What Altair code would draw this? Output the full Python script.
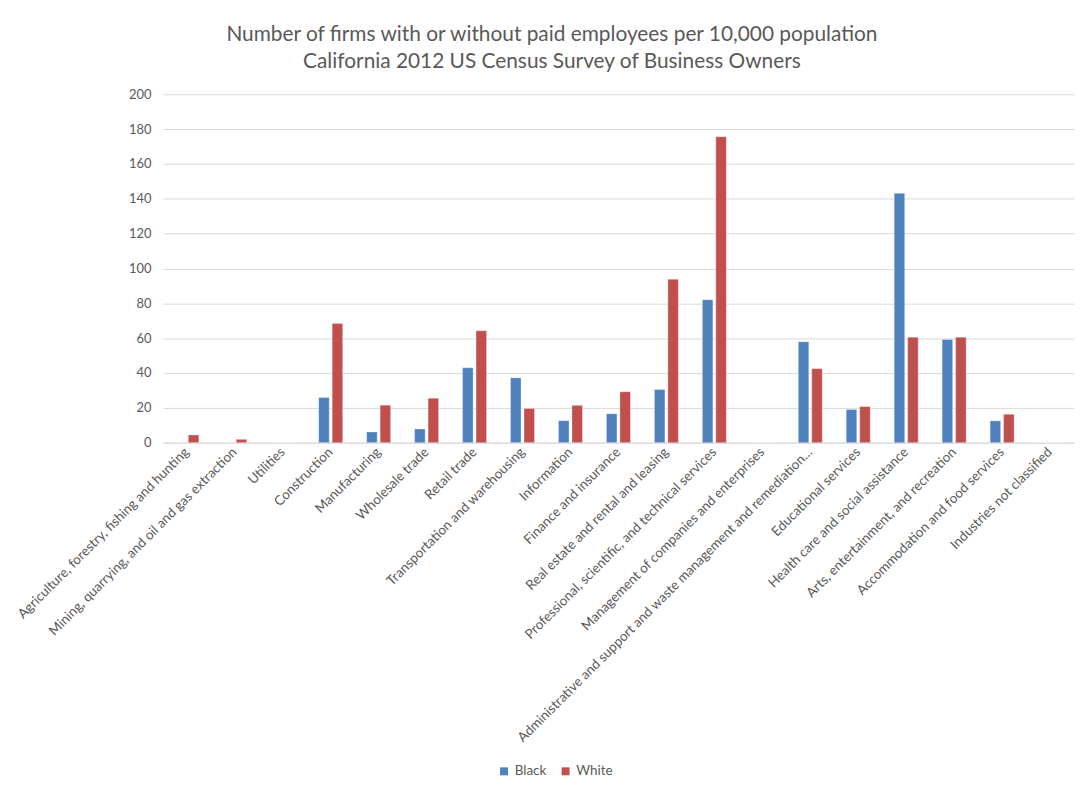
import altair as alt
import pandas as pd

categories = [
    "Agriculture, forestry, fishing and hunting",
    "Mining, quarrying, and oil and gas extraction",
    "Utilities",
    "Construction",
    "Manufacturing",
    "Wholesale trade",
    "Retail trade",
    "Transportation and warehousing",
    "Information",
    "Finance and insurance",
    "Real estate and rental and leasing",
    "Professional, scientific, and technical services",
    "Management of companies and enterprises",
    "Administrative and support and waste management and remediation…",
    "Educational services",
    "Health care and social assistance",
    "Arts, entertainment, and recreation",
    "Accommodation and food services",
    "Industries not classified",
]
black = [0, 0, 0, 25.9, 6.1, 7.8, 43.0, 37.2, 12.6, 16.6, 30.5, 82.0, 0, 57.9, 19.0, 143.1, 59.2, 12.5, 0]
white = [4.4, 1.9, 0, 68.4, 21.5, 25.5, 64.2, 19.6, 21.4, 29.2, 93.8, 175.6, 0, 42.5, 20.7, 60.5, 60.5, 16.3, 0]
series = ["Black", "White"]
colors = ["#4F81BD", "#C0504D"]

rows = []
for i, c in enumerate(categories):
    rows.append({"industry": c, "race": "Black", "value": black[i]})
    rows.append({"industry": c, "race": "White", "value": white[i]})
df = pd.DataFrame(rows)

FONT = "Lato"
GRAY = "#595959"

chart = alt.Chart(df).mark_bar(stroke="white", strokeWidth=0.6, strokeOpacity=0.5).encode(
    x=alt.X("industry:N", sort=categories, title=None,
            scale=alt.Scale(paddingInner=0.5, paddingOuter=0.25),
            axis=alt.Axis(labelAngle=-45, labelAlign="right", labelBaseline="middle",
                          labelLimit=700, labelPadding=7, ticks=False,
                          domainColor="#d9d9d9", labelColor=GRAY, labelFontSize=13.5,
                          labelFont=FONT)),
    xOffset=alt.XOffset("race:N", sort=series,
                        scale=alt.Scale(paddingInner=0.22, paddingOuter=0)),
    y=alt.Y("value:Q", title=None,
            scale=alt.Scale(domain=[0, 200]),
            axis=alt.Axis(values=list(range(0, 201, 20)), domain=False, ticks=False,
                          gridColor="#d9d9d9", labelColor=GRAY, labelFontSize=13,
                          labelFont=FONT, labelPadding=12)),
    color=alt.Color("race:N", sort=series,
                    scale=alt.Scale(domain=series, range=colors),
                    legend=alt.Legend(title=None, orient="none", direction="horizontal",
                                      legendX=337, legendY=675, symbolType="square",
                                      symbolSize=64, symbolStrokeWidth=0,
                                      labelFont=FONT, labelFontSize=13.5, labelColor=GRAY,
                                      labelOffset=4, columnPadding=12)),
).properties(
    width=918,
    height=351,
    title=alt.TitleParams(
        text=["Number of firms with or without paid employees per 10,000 population",
              "California 2012 US Census Survey of Business Owners"],
        anchor="middle", dx=-67, offset=16, font=FONT, fontSize=21,
        fontWeight="normal", color=GRAY, lineHeight=28),
    autosize=alt.AutoSizeParams(type="none"),
    padding={"left": 156, "top": 84, "right": 5, "bottom": 340},
).configure_view(stroke=None)

chart.save("out.html", embed_options={"renderer": "svg", "actions": False})
